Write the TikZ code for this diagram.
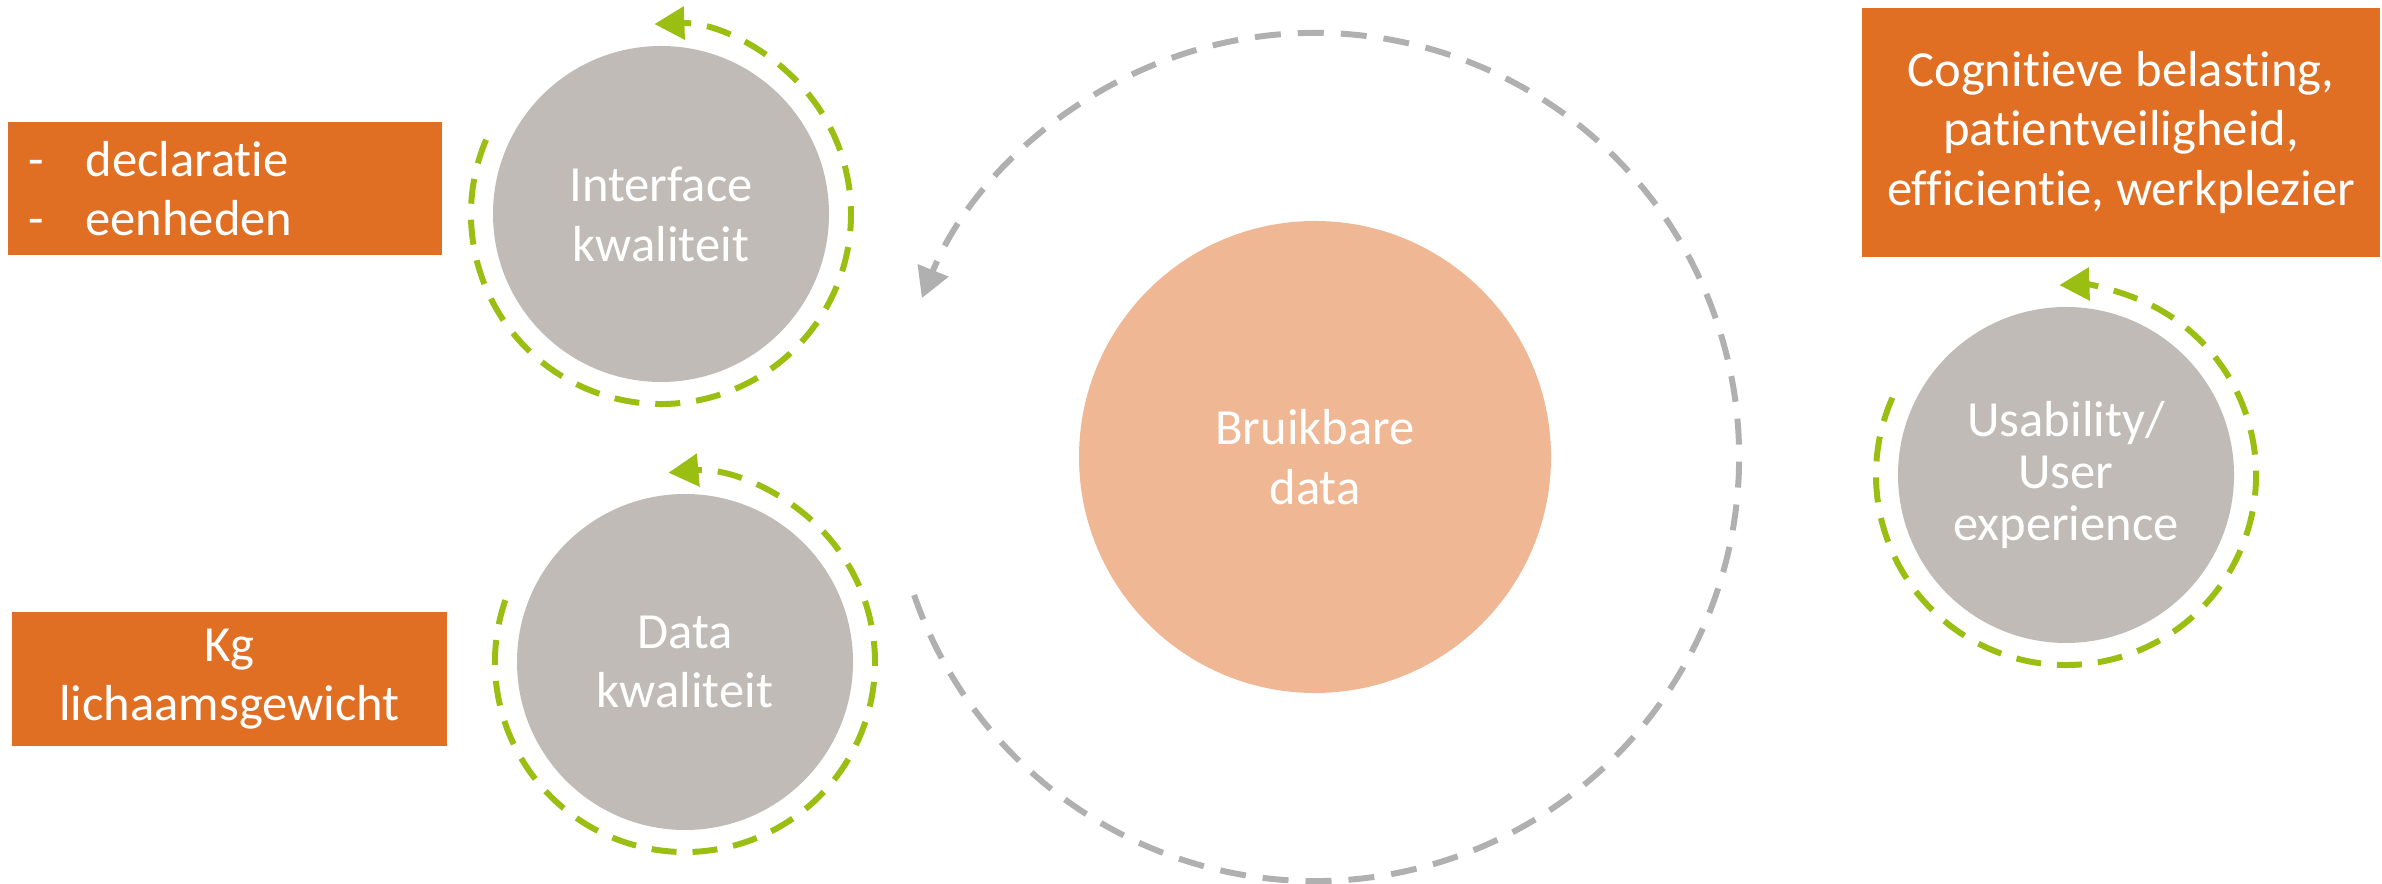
\documentclass[tikz,border=0pt]{standalone}
\usepackage{fontspec}
\setmainfont{Carlito}[Ligatures=CommonOff]
\usepackage{tikz}
\definecolor{boxorange}{RGB}{224, 111, 36}
\definecolor{circlegray}{RGB}{192, 187, 182}
\definecolor{coresalmon}{RGB}{240, 183, 148}
\definecolor{loopgreen}{RGB}{154, 191, 18}
\definecolor{loopgray}{RGB}{176, 176, 176}
\usetikzlibrary{arrows.meta,positioning,calc}

\begin{document}
\begin{tikzpicture}[
    factor/.style={
        circle,
        fill=circlegray,
        text=white,
        minimum size=3.36cm,
        inner sep=0pt,
        align=center,
        font=\fontsize{14.4}{17}\selectfont
    },
    core/.style={factor, fill=coresalmon, minimum size=4.72cm},
    infobox/.style={
        rectangle,
        fill=boxorange,
        text=white,
        inner sep=0pt,
        align=center,
        font=\fontsize{14.4}{17}\selectfont
    },
    cycle/.style={-{Triangle[length=0.3cm,width=0.32cm]}, line width=1.7pt, loopgreen, dash pattern=on 0.25cm off 0.16cm},
    bigloop/.style={-{Triangle[length=0.3cm,width=0.32cm]}, line width=1.7pt, loopgray, dash pattern=on 0.26cm off 0.17cm}
]
    \useasboundingbox (0,0) rectangle (23.82,8.84);

    % Circles
    \node[factor] (iface) at (6.61,6.70) {Interface\\kwaliteit};
    \node[factor] (dataq) at (6.85,2.22) {Data\\kwaliteit};
    \node[core] (bruik) at (13.15,4.27) {Bruikbare\\data};
    \node[factor, font=\fontsize{14.4}{14.8}\selectfont] (usab) at (20.66,4.09) {Usability/\\User\\experience};

    % Boxes
    \node[infobox, minimum width=4.34cm, minimum height=1.33cm, text width=3.94cm, align=left] (decl) at (2.25,6.955) {-\hspace{0.42cm}declaratie\\-\hspace{0.42cm}eenheden};
    \node[infobox, minimum width=4.35cm, minimum height=1.34cm] (kg) at (2.295,2.05) {Kg\\lichaamsgewicht};
    \node[infobox, minimum width=5.18cm, minimum height=2.49cm] (cog) at (21.21,7.515) {Cognitieve belasting,\\patientveiligheid,\\efficientie, werkplezier};

    % Loops
    \draw[cycle] ([shift={(157:1.9)}]iface.center) arc[start angle=157, end angle=452, radius=1.9];
    \draw[cycle] ([shift={(161:1.9)}]dataq.center) arc[start angle=161, end angle=455, radius=1.9];
    \draw[cycle] ([shift={(156:1.9)}]usab.center) arc[start angle=156, end angle=452, radius=1.9];
    \draw[bigloop] ([shift={(199:4.24)}]bruik.center) arc[start angle=199, end angle=518, radius=4.24];
\end{tikzpicture}
\end{document}
